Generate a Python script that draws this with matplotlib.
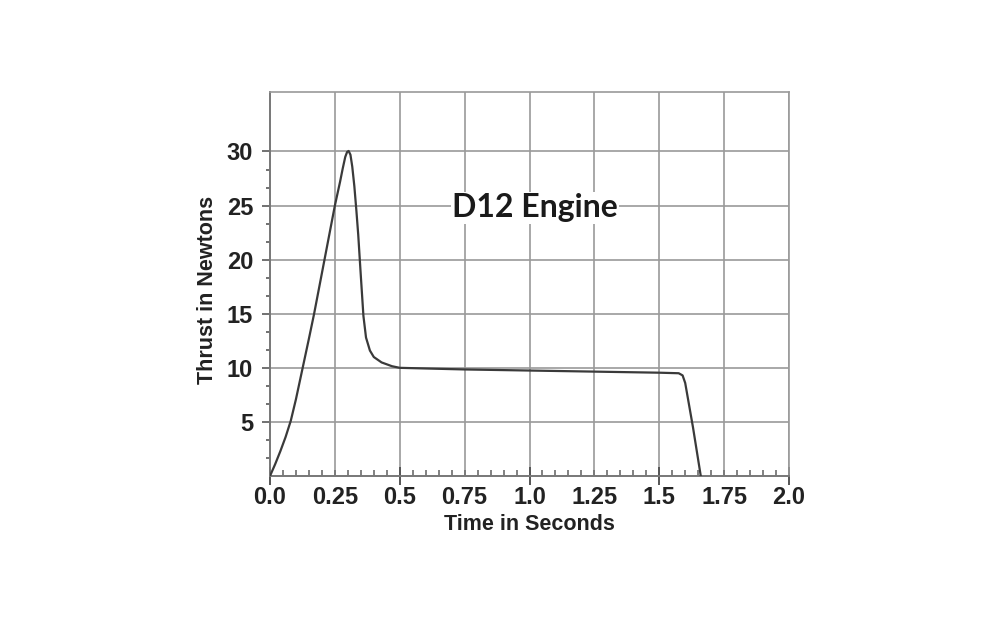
import numpy as np
import matplotlib
matplotlib.use("Agg")
import matplotlib.pyplot as plt
from matplotlib.ticker import FixedLocator, FuncFormatter

# thrust curve
time_s = [0.0, 0.02, 0.04, 0.06, 0.08, 0.10, 0.125, 0.15, 0.17, 0.19, 0.21, 0.23, 0.25,
          0.27, 0.28, 0.29, 0.297, 0.303, 0.31, 0.317, 0.325, 0.333, 0.34, 0.35, 0.36,
          0.37, 0.385, 0.40, 0.43, 0.47, 0.5, 0.75, 1.0, 1.25, 1.5, 1.575, 1.59, 1.60,
          1.63, 1.66]
thrust_n = [0.0, 1.1, 2.3, 3.6, 5.1, 7.1, 9.9, 12.7, 15.0, 17.5, 20.0, 22.5, 25.0,
            27.2, 28.4, 29.5, 29.95, 30.05, 29.7, 28.6, 26.8, 24.5, 22.3, 18.5, 14.8,
            12.8, 11.6, 11.0, 10.5, 10.15, 10.0, 9.85, 9.75, 9.65, 9.55, 9.5, 9.3, 8.6,
            4.5, 0.0]

x_major = [0.0, 0.5, 1.0, 1.5, 2.0]
x_grid = [0.25, 0.5, 0.75, 1.0, 1.25, 1.5, 1.75, 2.0]
x_labeled_minor = [0.25, 0.75, 1.25, 1.75]
y_major = [5, 10, 15, 20, 25, 30]

title = "D12 Engine"
xlabel = "Time in Seconds"
ylabel = "Thrust in Newtons"

sans = ["Liberation Sans", "DejaVu Sans"]

fig = plt.figure(figsize=(10, 6.25), dpi=100)
ax = fig.add_axes([0.27, 0.2384, 0.519, 0.6144])

gridc = "#9a9a9a"
for xv in x_grid:
    ax.axvline(xv, color=gridc, lw=1.2, zorder=1)
for yv in y_major:
    ax.axhline(yv, color=gridc, lw=1.2, zorder=1)

ax.plot(time_s, thrust_n, color="#3a3a3a", lw=1.6, zorder=3)

ax.set_xlim(0, 2.0)
ax.set_ylim(0, 35.5)

for s in ["top", "right"]:
    ax.spines[s].set_color(gridc)
    ax.spines[s].set_linewidth(1.2)
for s in ["left", "bottom"]:
    ax.spines[s].set_color("#777777")
    ax.spines[s].set_linewidth(1.4)

# x ticks: long ticks at each 0.5, short inward ticks every 0.05
ax.xaxis.set_major_locator(FixedLocator(x_major))
ax.xaxis.set_major_formatter(FuncFormatter(lambda v, p: f"{v:.1f}"))
ax.xaxis.set_minor_locator(FixedLocator(np.round(np.arange(0.05, 2.0, 0.05), 2)))
ax.xaxis.set_minor_formatter(FuncFormatter(
    lambda v, p: f"{v:.2f}" if round(v, 2) in x_labeled_minor else ""))
ax.tick_params(axis="x", which="major", direction="inout", length=13, width=1.4,
               color="#555555", pad=0.8)
ax.tick_params(axis="x", which="minor", direction="in", length=4, width=1.3,
               color="#777777", pad=7.2)

# y ticks
ax.yaxis.set_major_locator(FixedLocator(y_major))
ax.yaxis.set_minor_locator(FixedLocator(
    [v for v in np.arange(0, 30, 5 / 3) if abs(v / 5 - round(v / 5)) > 1e-6]))
ax.tick_params(axis="y", which="major", direction="out", length=5.8, width=1.3,
               color="#666666", pad=6.4)
ax.tick_params(axis="y", which="minor", direction="out", length=3, width=1.3,
               color="#666666")

for lab in ax.get_xticklabels(which="both") + ax.get_yticklabels():
    lab.set_family(sans)
    lab.set_fontweight("bold")
    lab.set_fontsize(17)
    lab.set_color("#222222")

ax.set_xlabel(xlabel, family=sans, fontweight="bold", fontsize=15.5, color="#222222")
ax.xaxis.set_label_coords(0.5, -0.1)
ax.set_ylabel(ylabel, family=sans, fontweight="bold", fontsize=15.5, color="#222222")
ax.yaxis.set_label_coords(-0.1, 0.484)

ax.text(1.02, 24.8, title, family=["Lato", "DejaVu Sans"], fontweight="bold",
        fontsize=23, color="#1a1a1a", ha="center", va="center", zorder=4,
        bbox=dict(facecolor="white", edgecolor="none", pad=1))

fig.savefig("out.png", dpi=100, facecolor="white")
